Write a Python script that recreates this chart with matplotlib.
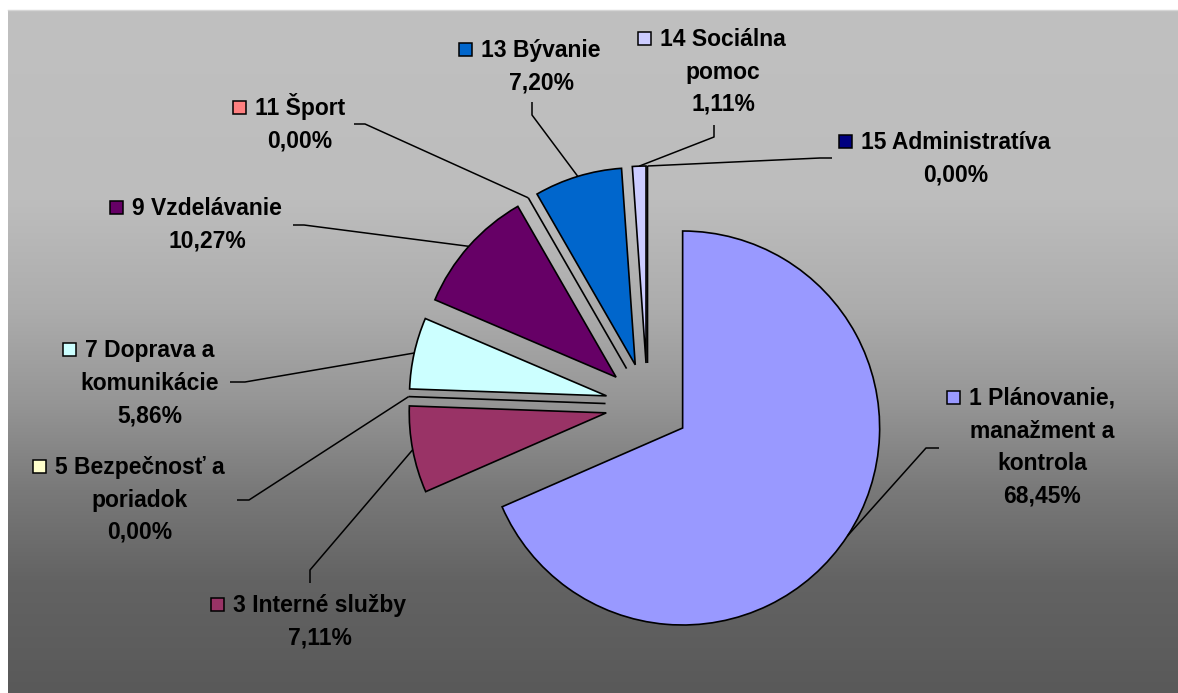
#!/usr/bin/env python3
"""
Rozpočet podľa programov - koláčový graf s vysunutými výsekmi
"""

import numpy as np
import matplotlib
matplotlib.use("Agg")
import matplotlib.pyplot as plt
from matplotlib.patches import Rectangle

# údaje z grafu
categories = [
    "1 Plánovanie,\nmanažment a\nkontrola",
    "3 Interné služby",
    "5 Bezpečnosť a\nporiadok",
    "7 Doprava a\nkomunikácie",
    "9 Vzdelávanie",
    "11 Šport",
    "13 Bývanie",
    "14 Sociálna\npomoc",
    "15 Administratíva",
]
values = [68.45, 7.11, 0.00, 5.86, 10.27, 0.00, 7.20, 1.11, 0.00]
colors = ["#9999FF", "#993366", "#FFFFCC", "#CCFFFF", "#660066",
          "#FF8080", "#0066CC", "#CCCCFF", "#000080"]

# rozloženie popisov (pixely obrázka, y zhora)
label_x = [1042, 320, 140, 150, 207, 300, 541, 723, 956]
label_y0 = [405, 612, 474, 357, 215, 115, 57, 46, 149]
lead_start = [(939, 448), (310, 583), (237, 500), (230, 382), (293, 225),
              (354, 124), (532, 102), (714, 125), (832, 158)]
lead_elbow = [(926, 448), (310, 570), (249, 500), (245, 382), (304, 225),
              (365, 124), (532, 115), (714, 137), (820, 158)]

W, H = 1178, 693
LINE = 32.5
FONT = ["Liberation Sans", "DejaVu Sans"]


def Y(y):
    """y z obrázka -> y v osiach"""
    return H - y


def background(ax):
    """sivý prechod pozadia"""
    rows = np.arange(10, H)
    stop_y = [10, 200, 310, 400, 490, 580, 693]
    stop_v = [192, 189, 172, 150, 121, 99, 89]
    g = np.interp(rows, stop_y, stop_v) / 255.0
    img = np.repeat(g[:, None], 2, axis=1)
    img = np.dstack([img, img, img])
    ax.imshow(img, extent=(8, W, 0, Y(10)), aspect="auto",
              interpolation="bilinear", zorder=0)
    ax.plot([8, W], [Y(10), Y(10)], color="#D6D6D6", lw=1, zorder=1)


def main():
    fig = plt.figure(figsize=(W / 100, H / 100), dpi=100, facecolor="white")
    ax = fig.add_axes([0, 0, 1, 1])

    background(ax)

    wedges, _ = ax.pie(
        values, colors=colors, startangle=90, counterclock=False,
        radius=197, center=(647.5, Y(405)), explode=[42] * len(values),
        wedgeprops=dict(edgecolor="black", linewidth=1.2), normalize=True,
    )
    for w in wedges:
        w.set_zorder(3)

    ax.set_xlim(0, W)
    ax.set_ylim(0, H)
    ax.set_axis_off()

    renderer = fig.canvas.get_renderer()

    for i, (cat, val) in enumerate(zip(categories, values)):
        lines = cat.split("\n") + [f"{val:.2f}%".replace(".", ",")]
        first = None
        for k, line in enumerate(lines):
            t = ax.text(label_x[i], Y(label_y0[i] + k * LINE), line,
                        ha="center", va="baseline", fontsize=16.5,
                        fontweight="bold", family=FONT, color="black",
                        zorder=5)
            if k == 0:
                first = t
        # štvorček legendy vľavo od prvého riadku
        bb = first.get_window_extent(renderer)
        left = bb.x0
        ax.add_patch(Rectangle((left - 9 - 13, Y(label_y0[i]) + 1), 13, 13,
                               facecolor=colors[i], edgecolor="black",
                               linewidth=1.1, zorder=5))

        # vodiaca čiara ku stredu oblúka výseku
        w = wedges[i]
        tm = np.deg2rad((w.theta1 + w.theta2) / 2)
        cx, cy = w.center
        ex, ey = cx + w.r * np.cos(tm), cy + w.r * np.sin(tm)
        sx, sy = lead_start[i]
        kx, ky = lead_elbow[i]
        ax.plot([sx, kx, ex], [Y(sy), Y(ky), ey], color="black",
                lw=1.1, zorder=4, solid_capstyle="butt")

    fig.savefig("out.png", dpi=100, facecolor="white")


if __name__ == "__main__":
    main()
